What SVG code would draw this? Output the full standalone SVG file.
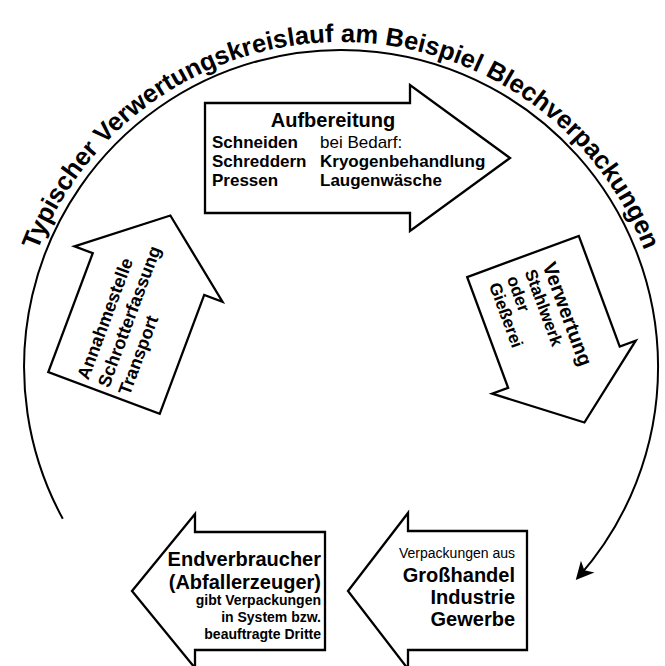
<svg xmlns="http://www.w3.org/2000/svg" xmlns:xlink="http://www.w3.org/1999/xlink" width="665" height="666" viewBox="0 0 665 666">
<style>
.shape{fill:#fff;stroke:#000;stroke-width:2.3;stroke-linejoin:miter}
.conn{fill:none;stroke:#000;stroke-width:2}
text{font-family:"Liberation Sans",Arial,Helvetica,sans-serif;fill:#000}
.b{font-weight:bold}
.t20{font-size:20px}
.t17{font-size:17px}
.t18{font-size:18px}
.t14{font-size:14px}
.title{font-size:25.5px;font-weight:bold}
</style>
<defs>
<path id="titlePath" d="M 16,367 A 325,325 0 0 1 666,367" fill="none"/>
<marker id="ah" markerUnits="userSpaceOnUse" markerWidth="40" markerHeight="40" viewBox="-20 -20 40 40" refX="0" refY="0" orient="auto" overflow="visible">
<path d="M4,0 L-14,-9 L-9,0 L-14,9 Z" fill="#000"/>
</marker>
</defs>
<rect width="665" height="666" fill="#fff"/>

<g id="title">
<text class="title"><textPath xlink:href="#titlePath" href="#titlePath" startOffset="50%" text-anchor="middle">Typischer Verwertungskreislauf am Beispiel Blechverpackungen</textPath></text>
</g>

<g id="connectors">
<path class="conn" d="M 62.8,518.8 A 317,317 0 1 1 578.4,577.1" marker-end="url(#ah)"/>
</g>

<g id="node-aufbereitung">
<polygon class="shape" points="205,103 410,103 410,85 510,158 410,231 410,213 205,213"/>
<text class="b t20" x="333" y="127" text-anchor="middle">Aufbereitung</text>
<text class="b t17" x="212" y="148">Schneiden</text>
<text class="t17" x="320" y="148">bei Bedarf:</text>
<text class="b t17" x="212" y="167">Schreddern</text>
<text class="b t17" x="320" y="167">Kryogenbehandlung</text>
<text class="b t17" x="212" y="186">Pressen</text>
<text class="b t17" x="320" y="186">Laugenwäsche</text>
</g>

<g id="node-verwertung">
<polygon class="shape" transform="translate(523,256.5) rotate(-20.3)" points="-59.5,0 59.5,0 59.5,118 76.5,118 0,177 -76.5,118 -59.5,118"/>
<g transform="translate(523,256.5) rotate(69.7)">
<text class="b t20" x="15" y="-15">Verwertung</text>
<text class="b t17" x="15" y="4">Stahlwerk</text>
<text class="b t17" x="15" y="23">oder</text>
<text class="b t17" x="15" y="42">Gießerei</text>
</g>
</g>

<g id="node-grosshandel">
<polygon class="shape" points="527,531 408,531 408,513 348,591 408,669 408,650 527,650"/>
<text class="t14" x="515" y="558" text-anchor="end">Verpackungen aus</text>
<text class="b t20" x="515" y="582" text-anchor="end">Großhandel</text>
<text class="b t20" x="515" y="604" text-anchor="end">Industrie</text>
<text class="b t20" x="515" y="626" text-anchor="end">Gewerbe</text>
</g>

<g id="node-endverbraucher">
<polygon class="shape" points="325,532 195,532 195,514 132,591 195,668 195,650 325,650"/>
<text class="b t20" x="321" y="566" text-anchor="end">Endverbraucher</text>
<text class="b t20" x="321" y="589" text-anchor="end">(Abfallerzeuger)</text>
<text class="b t14" x="321" y="605" text-anchor="end">gibt Verpackungen</text>
<text class="b t14" x="321" y="622" text-anchor="end">in System bzw.</text>
<text class="b t14" x="321" y="639" text-anchor="end">beauftragte Dritte</text>
</g>

<g id="node-annahme">
<polygon class="shape" transform="translate(104,393) rotate(20.5)" points="-59.5,0 -59.5,-127 -79,-127 0,-189.5 79,-127 59.5,-127 59.5,0"/>
<g transform="translate(104,393) rotate(-69.5)">
<text class="b t18" x="6" y="-19">Annahmestelle</text>
<text class="b t18" x="6" y="3">Schrotterfassung</text>
<text class="b t18" x="6" y="25">Transport</text>
</g>
</g>
</svg>
